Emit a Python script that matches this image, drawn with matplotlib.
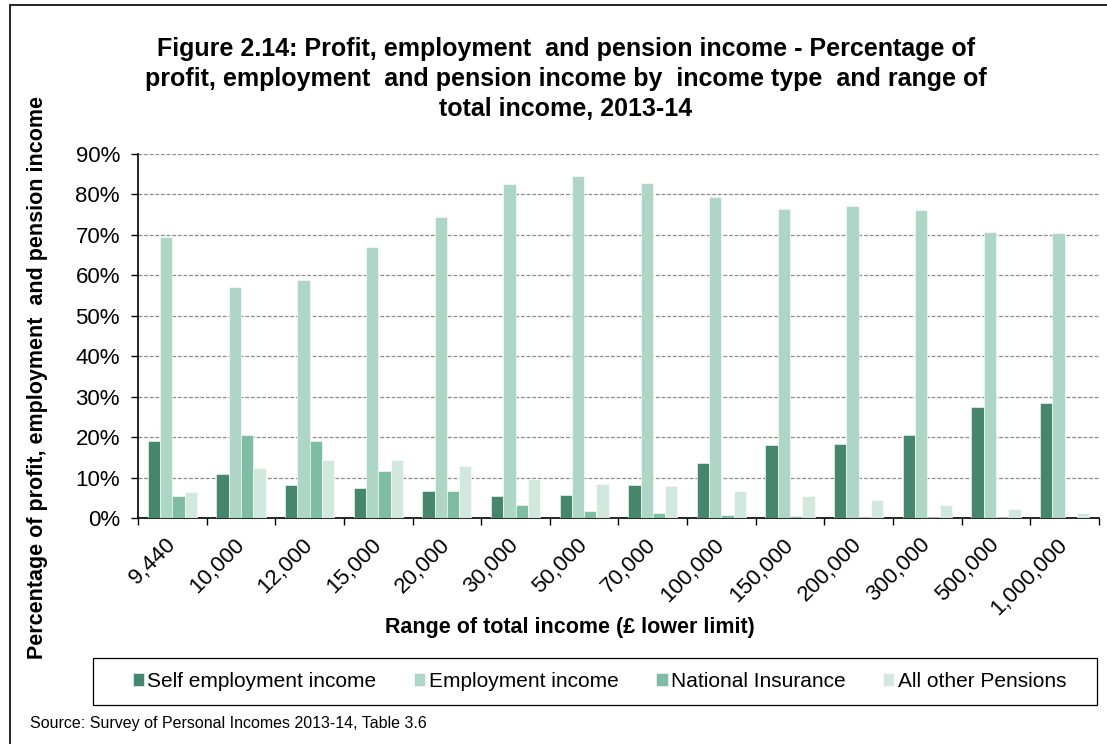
import numpy as np
import matplotlib.pyplot as plt
from matplotlib.patches import Rectangle

plt.rcParams['font.family'] = ['Liberation Sans', 'DejaVu Sans']

# Data
# ------------------------------------------------------------------------

income_bands = ['9,440', '10,000', '12,000', '15,000', '20,000', '30,000', '50,000',
                '70,000', '100,000', '150,000', '200,000', '300,000', '500,000', '1,000,000']

self_employment = [19.0, 10.9, 8.2, 7.4, 6.6, 5.5, 5.8, 8.2, 13.6, 18.0, 18.2, 20.4, 27.5, 28.5]
employment = [69.6, 57.2, 58.8, 66.9, 74.5, 82.7, 84.5, 82.9, 79.4, 76.4, 77.2, 76.1, 70.7, 70.4]
national_insurance = [5.5, 20.4, 19.0, 11.7, 6.6, 3.1, 1.7, 1.2, 0.8, 0.6, 0.3, 0.3, 0.3, 0.1]
other_pensions = [6.3, 12.3, 14.3, 14.3, 12.9, 9.6, 8.5, 7.9, 6.6, 5.5, 4.5, 3.3, 2.3, 1.2]

series = [
    ('Self employment income', self_employment, '#46866d'),
    ('Employment income', employment, '#aed6c6'),
    ('National Insurance', national_insurance, '#7ebda3'),
    ('All other Pensions', other_pensions, '#d2e8df'),
]

# Plot
# ----------------------------------------------------------------------------------

fig = plt.figure(figsize=(11.07, 7.44), dpi=100)
ax = fig.add_axes([0.1247, 0.3038, 0.868, 0.4892])

x = np.arange(len(income_bands))
width = 0.179
for i, (name, values, color) in enumerate(series):
    ax.bar(x + (i - 1.5) * width, values, width, color=color, label=name,
           edgecolor='white', linewidth=0.4, zorder=3)

ax.set_xlim(-0.5, len(income_bands) - 0.5)
ax.set_ylim(0, 90)
ax.set_yticks(np.arange(0, 91, 10))
ax.set_yticklabels([f'{v}%' for v in range(0, 91, 10)], fontsize=16)
ax.yaxis.grid(True, linestyle=(0, (3, 1.5)), color='#8c8c8c', linewidth=0.9, zorder=0)

ax.set_xticks(x)
ax.set_xticklabels(income_bands, rotation=45, ha='right', va='center',
                   rotation_mode='anchor', fontsize=16)
ax.tick_params(axis='x', which='major', length=0, pad=17)
ax.set_xticks(np.arange(-0.5, len(income_bands)), minor=True)
ax.tick_params(axis='x', which='minor', length=5, width=1, direction='out')
ax.tick_params(axis='y', length=5, width=1, direction='out', pad=8)

for side in ['top', 'right']:
    ax.spines[side].set_visible(False)
ax.spines['left'].set_linewidth(1.2)
ax.spines['bottom'].set_linewidth(1.2)

fig.text(0.515, 0.157, 'Range of total income (£ lower limit)', fontsize=15.5,
         fontweight='bold', ha='center', va='center')
fig.text(0.034, 0.492, 'Percentage of profit, employment  and pension income',
         rotation=90, fontsize=15.5, fontweight='bold', ha='center', va='center')

fig.text(0.511, 0.8938,
         'Figure 2.14: Profit, employment  and pension income - Percentage of\n'
         'profit, employment  and pension income by  income type  and range of\n'
         'total income, 2013-14',
         fontsize=18, fontweight='bold', ha='center', va='center', linespacing=1.3)

# legend entries without a frame, boxed by a separate rectangle
fig.legend(loc='center', bbox_to_anchor=(0.5416, 0.084), ncol=4, fontsize=15,
           frameon=False, handlelength=0.53, handleheight=0.53, handletextpad=0.15,
           columnspacing=1.83)
fig.patches.append(Rectangle((0.0840, 0.0524), 0.9069, 0.0632, transform=fig.transFigure,
                             fill=False, edgecolor='black', linewidth=0.9))

fig.text(0.027, 0.021, 'Source: Survey of Personal Incomes 2013-14, Table 3.6', fontsize=11.5)

# outer frame, open on the right and bottom
fig.patches.append(Rectangle((0.009, -0.1), 1.2, 1.093, transform=fig.transFigure,
                             fill=False, edgecolor='black', linewidth=1.2))

fig.savefig('out.png', dpi=100)
